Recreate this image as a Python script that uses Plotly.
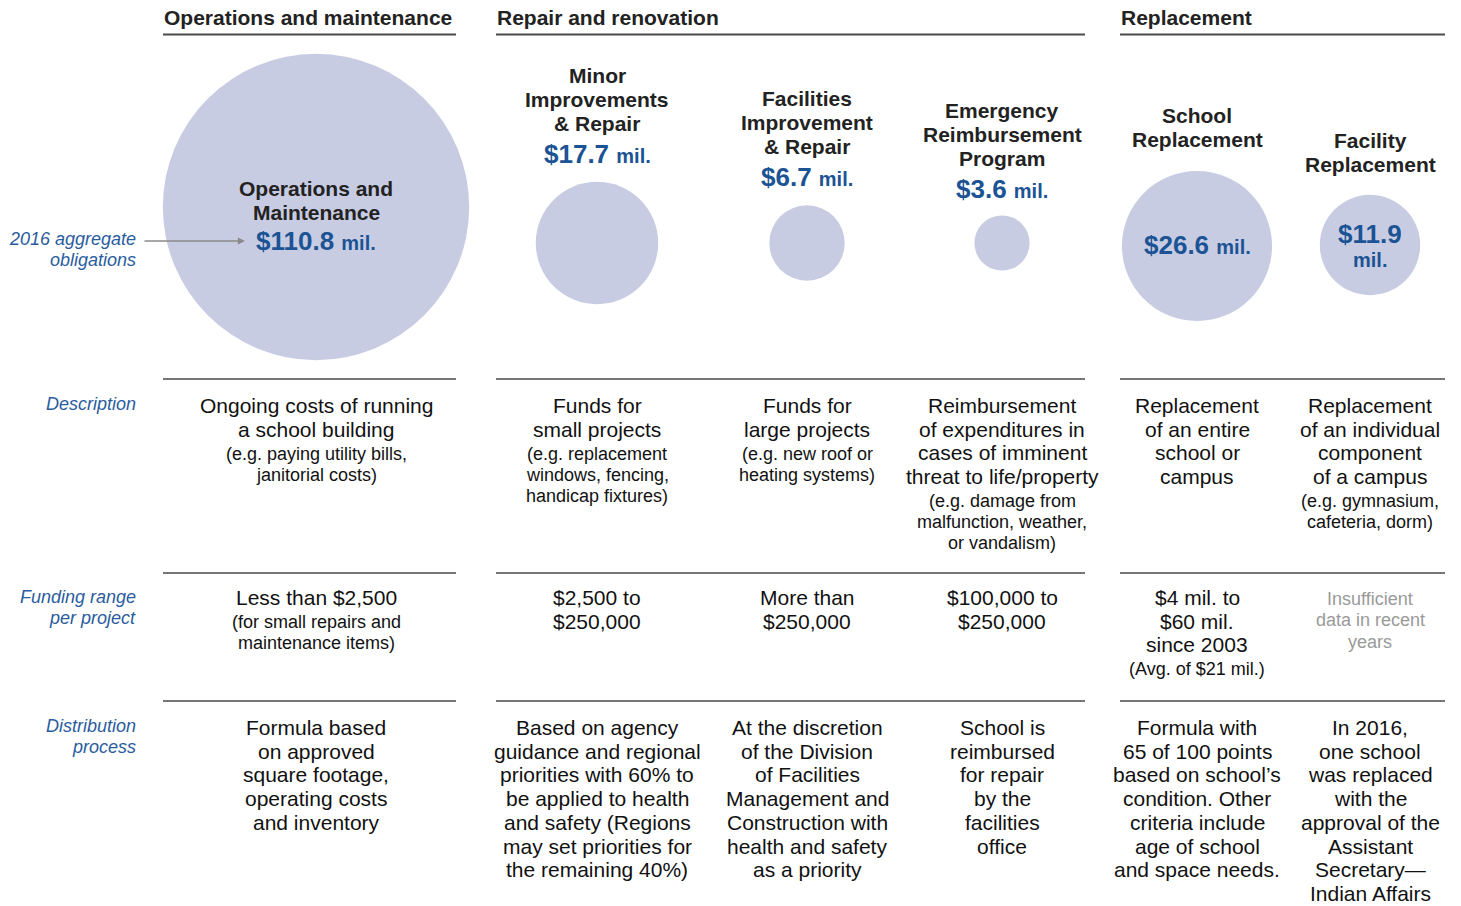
import plotly.graph_objects as go

# ---------------- data ----------------
sections = ["Operations and maintenance", "Repair and renovation", "Replacement"]
programs = ["Operations and Maintenance", "Minor Improvements & Repair",
            "Facilities Improvement & Repair", "Emergency Reimbursement Program",
            "School Replacement", "Facility Replacement"]
obligations = [110.8, 17.7, 6.7, 3.6, 26.6, 11.9]  # 2016 aggregate obligations, $ millions

title_lines = [["Operations and", "Maintenance"],
               ["Minor", "Improvements", "& Repair"],
               ["Facilities", "Improvement", "& Repair"],
               ["Emergency", "Reimbursement", "Program"],
               ["School", "Replacement"],
               ["Facility", "Replacement"]]

row_labels = [["2016 aggregate", "obligations"], ["Description"],
              ["Funding range", "per project"], ["Distribution", "process"]]

desc_main = [["Ongoing costs of running", "a school building"],
             ["Funds for", "small projects"],
             ["Funds for", "large projects"],
             ["Reimbursement", "of expenditures in", "cases of imminent", "threat to life/property"],
             ["Replacement", "of an entire", "school or", "campus"],
             ["Replacement", "of an individual", "component", "of a campus"]]
desc_sub = [["(e.g. paying utility bills,", "janitorial costs)"],
            ["(e.g. replacement", "windows, fencing,", "handicap fixtures)"],
            ["(e.g. new roof or", "heating systems)"],
            ["(e.g. damage from", "malfunction, weather,", "or vandalism)"],
            [],
            ["(e.g. gymnasium,", "cafeteria, dorm)"]]

fund_main = [["Less than $2,500"], ["$2,500 to", "$250,000"], ["More than", "$250,000"],
             ["$100,000 to", "$250,000"], ["$4 mil. to", "$60 mil.", "since 2003"], []]
fund_sub = [["(for small repairs and", "maintenance items)"], [], [], [],
            ["(Avg. of $21 mil.)"], []]
fund_note = [[], [], [], [], [], ["Insufficient", "data in recent", "years"]]

distribution = [["Formula based", "on approved", "square footage,", "operating costs", "and inventory"],
                ["Based on agency", "guidance and regional", "priorities with 60% to",
                 "be applied to health", "and safety (Regions", "may set priorities for",
                 "the remaining 40%)"],
                ["At the discretion", "of the Division", "of Facilities", "Management and",
                 "Construction with", "health and safety", "as a priority"],
                ["School is", "reimbursed", "for repair", "by the", "facilities", "office"],
                ["Formula with", "65 of 100 points", "based on school\u2019s", "condition. Other",
                 "criteria include", "age of school", "and space needs."],
                ["In 2016,", "one school", "was replaced", "with the", "approval of the",
                 "Assistant", "Secretary\u2014", "Indian Affairs"]]

# ---------------- layout constants ----------------
W, H = 1461, 906
FONT = "Arial, Liberation Sans, Helvetica, sans-serif"
BLUE = "#1B5394"
LBLUE = "#2A5C9E"
DARK = "#222222"
BODY = "#111111"
CIRCLE = "#C8CCE3"
LINE = "#4a4a4a"
DY = -1.5  # small vertical nudge for text baselines

col_x = [316, 597, 807, 1002, 1197, 1370]
circle_y = [207, 243, 243, 243, 246, 245]
title_y0 = [190, 77, 100, 112, 117, 142]
value_y = [242, 155, 178, 190, 246, 235]
section_spans = [(163, 456), (496, 1085), (1120, 1445)]
sep_y = [379, 573, 701]
PX_PER_SQRT = 29.1  # circle diameter per sqrt($ mil.)

fig = go.Figure()

# bubbles: area proportional to obligations
fig.add_trace(go.Scatter(
    x=col_x, y=circle_y, mode="markers",
    marker=dict(size=[PX_PER_SQRT * v ** 0.5 for v in obligations], sizemode="diameter",
                color=CIRCLE, line=dict(width=0), opacity=1),
    hoverinfo="text", text=[f"{p}: ${v} mil." for p, v in zip(programs, obligations)],
    showlegend=False))

ann = []


def txt(x, y, s, size=21, color=BODY, bold=False, italic=False, xanchor="center"):
    if bold:
        s = f"<b>{s}</b>"
    if italic:
        s = f"<i>{s}</i>"
    ann.append(dict(x=x, y=y + DY, xref="x", yref="y", text=s, showarrow=False,
                    xanchor=xanchor, yanchor="middle",
                    font=dict(family=FONT, size=size, color=color)))


shapes = []
# section headers
for name, (x0, x1) in zip(sections, section_spans):
    txt(x0 - 1, 19, name, size=21, color=DARK, bold=True, xanchor="left")
    shapes.append(dict(type="line", xref="x", yref="y", x0=x0, x1=x1, y0=34.5, y1=34.5,
                       line=dict(color=LINE, width=2)))
    for yy in sep_y:
        shapes.append(dict(type="line", xref="x", yref="y", x0=x0, x1=x1, y0=yy, y1=yy,
                           line=dict(color=LINE, width=1.5)))

# circle titles and values
for i, (x, lines) in enumerate(zip(col_x, title_lines)):
    for j, line in enumerate(lines):
        txt(x, title_y0[i] + 24 * j, line, size=21, color=DARK, bold=True)
    v = obligations[i]
    if i == 5:
        txt(x, value_y[i], f"${v}", size=26, color=BLUE, bold=True)
        txt(x, value_y[i] + 26, "mil.", size=20, color=BLUE, bold=True)
    else:
        txt(x, value_y[i], f"${v} <span style='font-size:20px'>mil.</span>",
            size=26, color=BLUE, bold=True)

# row labels
label_y = [[240, 261], [405], [598, 619], [727, 748]]
for lines, ys in zip(row_labels, label_y):
    for line, yy in zip(lines, ys):
        txt(138, yy, line, size=18, color=LBLUE, italic=True, xanchor="right")

# arrow for aggregate obligations
ann.append(dict(x=245, y=241, ax=143, ay=241, xref="x", yref="y", axref="x", ayref="y",
                text="", showarrow=True, arrowhead=2, arrowsize=1.1, arrowwidth=1.3,
                arrowcolor="#8a8a8a"))


def block(x, y0, main, sub, sub_color=BODY):
    y = y0
    for j, line in enumerate(main):
        txt(x, y, line, size=21, color=BODY)
        y += 23.7
    if sub:
        y = y - 23.7 + 24.5 if main else y
        for line in sub:
            txt(x, y, line, size=18, color=sub_color)
            y += 21


for i, x in enumerate(col_x):
    block(x, 407, desc_main[i], desc_sub[i])
    block(x, 599, fund_main[i], fund_sub[i])
    if fund_note[i]:
        y = 600
        for line in fund_note[i]:
            txt(x, y, line, size=18, color="#9a9a9a")
            y += 21.5
    y = 729
    for line in distribution[i]:
        txt(x, y, line, size=21, color=BODY)
        y += 23.7

fig.update_layout(
    width=W, height=H, margin=dict(l=0, r=0, t=0, b=0),
    paper_bgcolor="white", plot_bgcolor="white",
    xaxis=dict(range=[0, W], visible=False, fixedrange=True),
    yaxis=dict(range=[H, 0], visible=False, fixedrange=True),
    shapes=shapes, annotations=ann, showlegend=False)

fig.write_html("out.html", config={"displayModeBar": False},
               post_script="document.body.style.margin='0';document.body.style.overflow='hidden';")
